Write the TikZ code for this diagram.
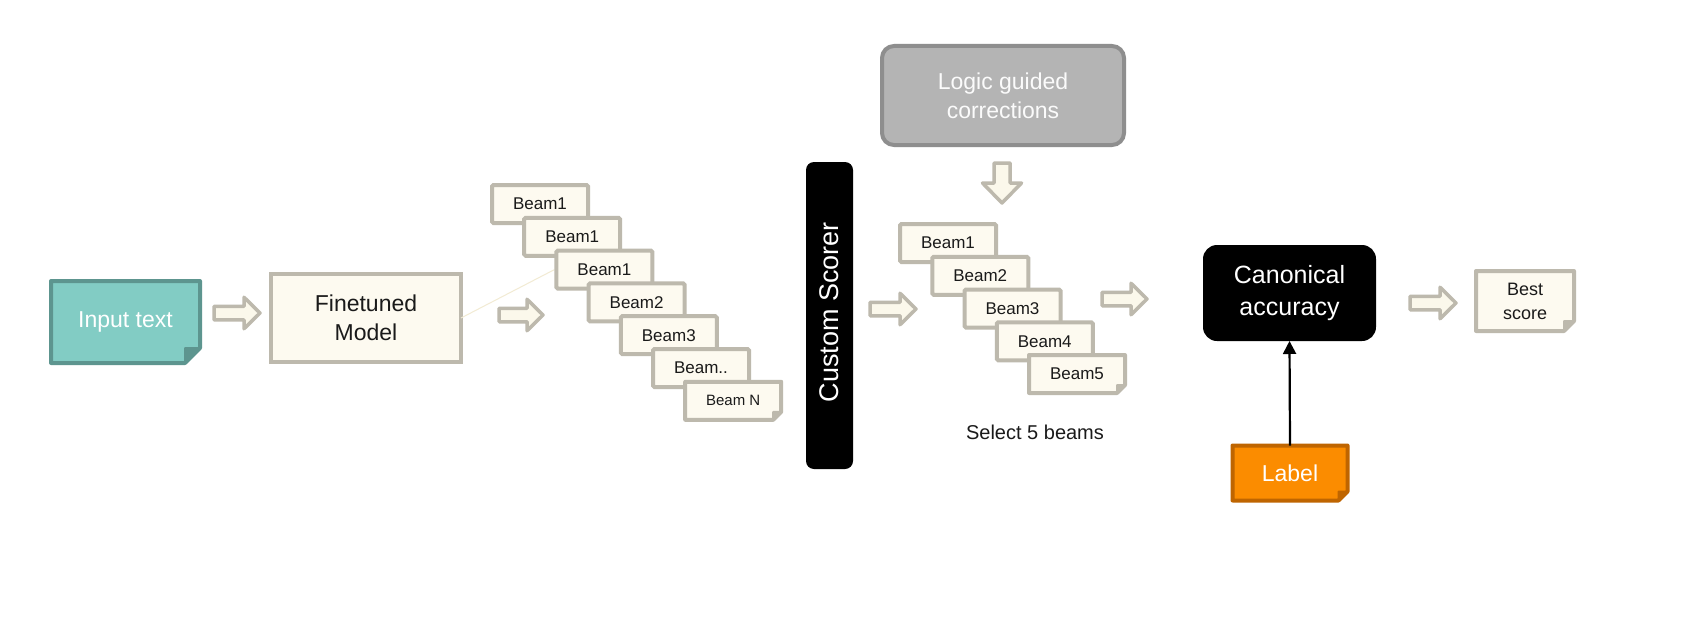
\documentclass[tikz,border=0pt]{standalone}
\usepackage{fontspec}
\setmainfont{Liberation Sans}
\usetikzlibrary{arrows.meta}
\definecolor{tealfill}{HTML}{82CCC4}
\definecolor{tealedge}{HTML}{5D958F}
\definecolor{creamfill}{HTML}{FDFAF0}
\definecolor{creamedge}{HTML}{BDB9AD}
\definecolor{arrowfill}{HTML}{FBF8EB}
\definecolor{greyfill}{HTML}{B4B4B4}
\definecolor{greyedge}{HTML}{8E8E8E}
\definecolor{orangefill}{HTML}{FB8C00}
\definecolor{orangeedge}{HTML}{BF6500}
\definecolor{faintline}{HTML}{F2EBD3}
\definecolor{textdark}{HTML}{1A1A1A}
% folded-corner box: #1 name, #2 x, #3 y, #4 w, #5 h, #6 fold, #7 fill colour, #8 edge colour, #9 node options; then text
\newcommand\myFoldBox[9]{%
  \filldraw[fill=#7, draw=#8, line width=4pt, line join=round]
    (#2-#4/2, #3-#5/2) -- (#2+#4/2, #3-#5/2) -- (#2+#4/2, #3+#5/2-#6)
    -- (#2+#4/2-#6, #3+#5/2) -- (#2-#4/2, #3+#5/2) -- cycle;
  \filldraw[fill=#8, draw=#8, line width=2pt, line join=round]
    (#2+#4/2, #3+#5/2-#6) -- (#2+#4/2-#6, #3+#5/2) -- (#2+#4/2-#6, #3+#5/2-#6) -- cycle;
  \node[plain, minimum width=#4pt, minimum height=#5pt, #9] (#1) at (#2,#3)}
\newcommand\myRArrow[3]{%
  \filldraw[barrow] (#1,#2-6.75) -- (#1+#3-16,#2-6.75) -- (#1+#3-16,#2-15.75)
    -- (#1+#3,#2) -- (#1+#3-16,#2+15.75) -- (#1+#3-16,#2+6.75) -- (#1,#2+6.75) -- cycle;}
\newcommand\myDArrow[3]{%
  \filldraw[barrow] (#1-8,#2) -- (#1+8,#2) -- (#1+8,#2+#3-20) -- (#1+19.5,#2+#3-20)
    -- (#1,#2+#3) -- (#1-19.5,#2+#3-20) -- (#1-8,#2+#3-20) -- cycle;}
\begin{document}
\begin{tikzpicture}[x=1pt, y=-1pt,
  plain/.style={inner sep=0pt, outer sep=0pt, align=center},
  barrow/.style={fill=arrowfill, draw=creamedge, line width=3.5pt, line join=round},
  card/.style={plain, fill=creamfill, draw=creamedge, line width=4pt, rounded corners=1.5pt,
    minimum width=96pt, minimum height=38pt, text=textdark, font=\fontsize{17}{20}\selectfont},
  cardtext/.style={text=textdark, font=\fontsize{17}{20}\selectfont},
  big/.style={font=\fontsize{23}{29}\selectfont}
]
\useasboundingbox (0,0) rectangle (1683,642);
\fill[white] (0,0) rectangle (1683,642);

% Input text
\myFoldBox{in}{125.5}{322}{149}{82}{15}{tealfill}{tealedge}{big, text=white}{Input text};

\myRArrow{214}{313}{46}

% Finetuned model
\node[plain, fill=creamfill, draw=creamedge, line width=4pt, minimum width=190pt, minimum height=88pt,
  big, text=textdark] (fm) at (366,318) {Finetuned\\Model};

% faint line and beams stack 1
\coordinate (b3w) at (554.4,269.6);
\draw[faintline, line width=1pt] (fm.east) -- (b3w);

\myRArrow{499}{315}{44}

\node[card] (b1) at (540,204) {Beam1};
\node[card] (b2) at (572.2,236.8) {Beam1};
\node[card] (b3) at (604.4,269.6) {Beam1};
\node[card] (b4) at (636.6,302.4) {Beam2};
\node[card] (b5) at (668.8,335.2) {Beam3};
\node[card] (b6) at (701,368) {Beam..};
\myFoldBox{b7}{733.2}{400.8}{96}{38}{8}{creamfill}{creamedge}{text=textdark, font=\fontsize{15}{18}\selectfont}{Beam N};

% Custom scorer
\node[plain, fill=black, rounded corners=8pt, minimum width=47pt, minimum height=307pt] (cs) at (829.5,315.5) {};
\node[plain, rotate=90, text=white, font=\fontsize{27}{30}\selectfont] (cst) at (829.5,312) {Custom Scorer};

\myRArrow{870}{309}{46}

% Logic guided corrections
\node[plain, fill=greyfill, draw=greyedge, line width=4pt, rounded corners=12pt, minimum width=242pt,
  minimum height=99pt, big, text=white!95!greyfill] (lg) at (1003,95.5) {Logic guided\\corrections};

\myDArrow{1002}{163}{40}

% beams stack 2
\node[card] (c1) at (948,243) {Beam1};
\node[card] (c2) at (980.25,275.75) {Beam2};
\node[card] (c3) at (1012.5,308.5) {Beam3};
\node[card] (c4) at (1044.75,341.25) {Beam4};
\myFoldBox{c5}{1077}{374}{96}{38}{8}{creamfill}{creamedge}{cardtext}{Beam5};

\node[plain, text=textdark, font=\fontsize{20}{24}\selectfont] (sel) at (1035,432) {Select 5 beams};

\myRArrow{1102}{299}{45}

% Canonical accuracy
\node[plain, fill=black, rounded corners=14pt, minimum width=173pt, minimum height=96pt,
  text=white, font=\fontsize{25}{32}\selectfont] (ca) at (1289.5,293) {Canonical\\accuracy};

\myRArrow{1410}{303}{46}

% Best score
\myFoldBox{bs}{1525}{301}{98}{60}{10}{creamfill}{creamedge}{text=textdark, font=\fontsize{18}{24}\selectfont}{Best\\score};

% Label
\myFoldBox{lab}{1290}{473}{115}{55}{9}{orangefill}{orangeedge}{text=white, font=\fontsize{23}{28}\selectfont}{Label};

\draw[line width=2.2pt, -{Triangle[length=13pt, width=13pt]}] (lab.north) -- (ca.south);
\end{tikzpicture}
\end{document}
